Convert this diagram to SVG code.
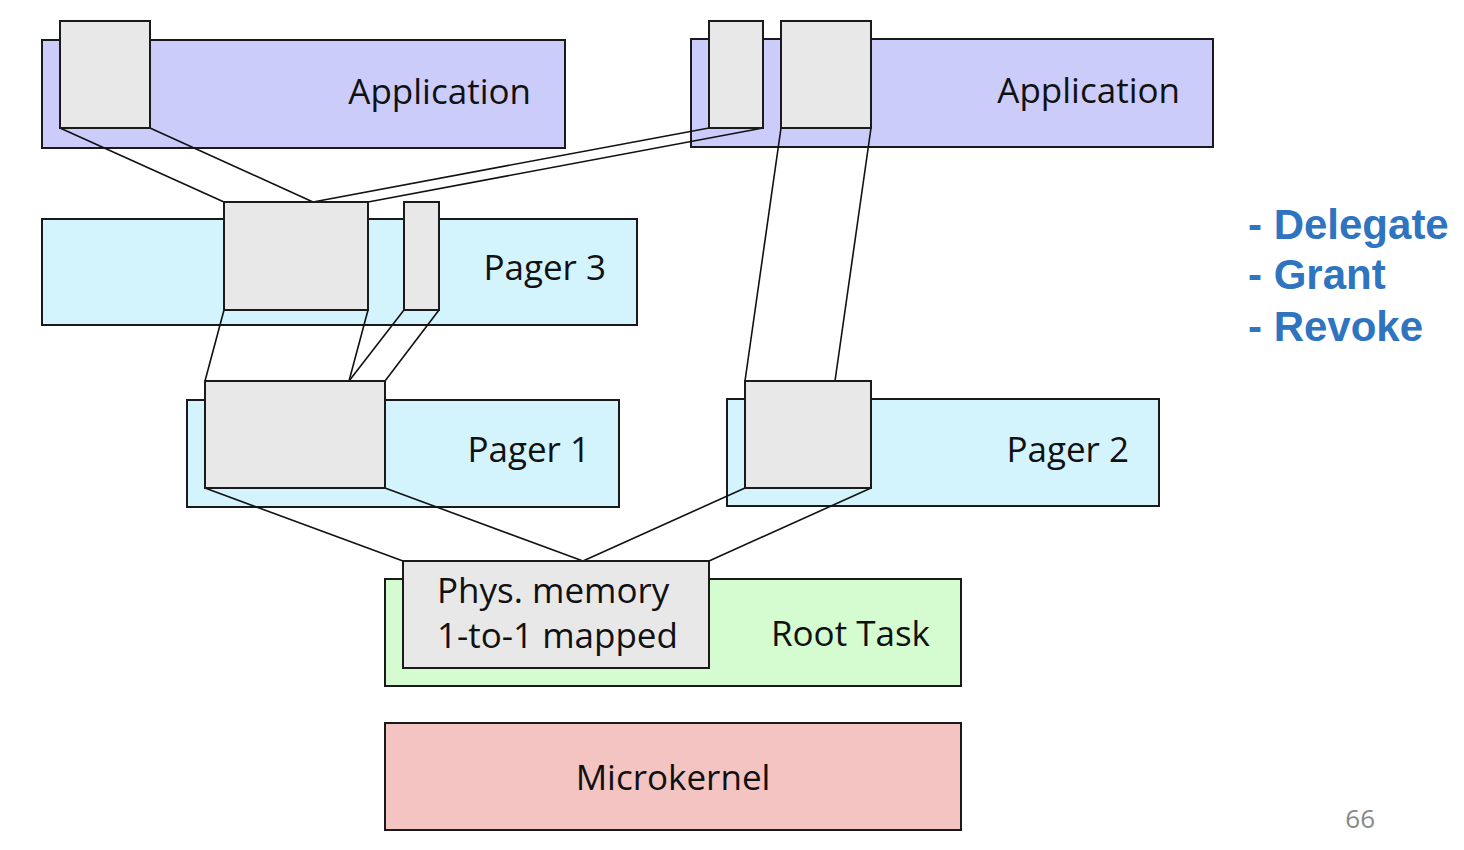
<svg xmlns="http://www.w3.org/2000/svg" width="1464" height="850" viewBox="0 0 1464 850">
<style>
.lay{stroke:#1a1a1a;stroke-width:2}
.app{fill:#ccccfa}
.pg{fill:#d3f3fd}
.rt{fill:#d5fbd0}
.mk{fill:#f4c4c3}
.pgbox{fill:#e8e8e8;stroke:#1a1a1a;stroke-width:2}
.lbl{font-family:"Open Sans","DejaVu Sans",sans-serif;font-size:35px;fill:#111}
.ops{font-family:"Liberation Sans",Arial,sans-serif;font-weight:bold;font-size:42px;fill:#2e74c0}
.con{stroke:#111;stroke-width:1.6;fill:none}
</style>
<rect width="1464" height="850" fill="#fff"/>
<g id="app1">
<rect class="lay app" x="42" y="40" width="523" height="108"/>
<text class="lbl" x="531" y="104" text-anchor="end">Application</text>
</g>
<g id="app2">
<rect class="lay app" x="691" y="39" width="522" height="108"/>
<text class="lbl" x="1180" y="103" text-anchor="end">Application</text>
</g>
<g id="pager3">
<rect class="lay pg" x="42" y="219" width="595" height="106"/>
<text class="lbl" x="606" y="280" text-anchor="end">Pager 3</text>
</g>
<g id="pager1">
<rect class="lay pg" x="187" y="400" width="432" height="107"/>
<text class="lbl" x="590" y="462" text-anchor="end">Pager 1</text>
</g>
<g id="pager2">
<rect class="lay pg" x="727" y="399" width="432" height="107"/>
<text class="lbl" x="1129" y="462" text-anchor="end">Pager 2</text>
</g>
<g id="roottask">
<rect class="lay rt" x="385" y="579" width="576" height="107"/>
<text class="lbl" x="930" y="646" text-anchor="end">Root Task</text>
</g>
<g id="microkernel">
<rect class="lay mk" x="385" y="723" width="576" height="107"/>
<text class="lbl" x="673" y="790" text-anchor="middle">Microkernel</text>
</g>
<g id="connectors">
<line class="con" x1="60" y1="128" x2="224" y2="202"/>
<line class="con" x1="150" y1="128" x2="313" y2="202"/>
<line class="con" x1="709" y1="128" x2="313" y2="202"/>
<line class="con" x1="763" y1="128" x2="368" y2="202"/>
<line class="con" x1="224" y1="310" x2="205" y2="381"/>
<line class="con" x1="368" y1="310" x2="349" y2="381"/>
<line class="con" x1="404" y1="310" x2="349" y2="381"/>
<line class="con" x1="439" y1="310" x2="385" y2="381"/>
<line class="con" x1="781" y1="128" x2="745" y2="381"/>
<line class="con" x1="871" y1="128" x2="835" y2="381"/>
<line class="con" x1="205" y1="488" x2="403" y2="561"/>
<line class="con" x1="385" y1="488" x2="583" y2="561"/>
<line class="con" x1="745" y1="488" x2="583" y2="561"/>
<line class="con" x1="871" y1="488" x2="709" y2="561"/>
</g>
<g id="app1-page"><rect class="pgbox" x="60" y="21" width="90" height="107"/></g>
<g id="app2-page-a"><rect class="pgbox" x="709" y="21" width="54" height="107"/></g>
<g id="app2-page-b"><rect class="pgbox" x="781" y="21" width="90" height="107"/></g>
<g id="pager3-page-a"><rect class="pgbox" x="224" y="202" width="144" height="108"/></g>
<g id="pager3-page-b"><rect class="pgbox" x="404" y="202" width="35" height="108"/></g>
<g id="pager1-page"><rect class="pgbox" x="205" y="381" width="180" height="107"/></g>
<g id="pager2-page"><rect class="pgbox" x="745" y="381" width="126" height="107"/></g>
<g id="physmem">
<rect class="pgbox" x="403" y="561" width="306" height="107"/>
<text class="lbl" x="437" y="603">Phys. memory</text>
<text class="lbl" x="437" y="648">1-to-1 mapped</text>
</g>
<g id="ops">
<text class="ops" x="1248" y="239">- Delegate</text>
<text class="ops" x="1248" y="289">- Grant</text>
<text class="ops" x="1248" y="341">- Revoke</text>
</g>
<text x="1375" y="828" text-anchor="end" font-family="'Open Sans','DejaVu Sans',sans-serif" font-size="26" fill="#888">66</text>
</svg>
